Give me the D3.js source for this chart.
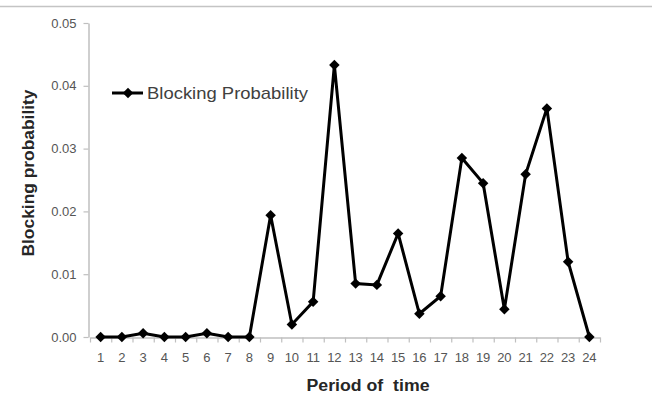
<!DOCTYPE html>
<html>
<head>
<meta charset="utf-8">
<script src="https://cdn.jsdelivr.net/npm/d3@7"></script>
<style>
  html, body { margin: 0; padding: 0; background: #fff; }
  svg { display: block; }
</style>
</head>
<body>
<svg id="chart" width="652" height="408"></svg>
<script>
const periods = [1,2,3,4,5,6,7,8,9,10,11,12,13,14,15,16,17,18,19,20,21,22,23,24];
const blocking = [0, 0, 0.0006, 0, 0, 0.0006, 0, 0, 0.0194, 0.0020, 0.0056, 0.0433,
                  0.0085, 0.0083, 0.0165, 0.0037, 0.0065, 0.0285, 0.0245, 0.0044,
                  0.0259, 0.0364, 0.0120, 0];
const yTicks = [0, 0.01, 0.02, 0.03, 0.04, 0.05];
const seriesName = "Blocking Probability";
const xTitle = "Period of  time";
const yTitle = "Blocking probability";

const svg = d3.select("#chart");
const axisColor = "#bfbfbf";
const labelColor = "#555555";
const font = "'Liberation Sans', Arial, sans-serif";

// top rule
svg.append("line").attr("x1", 0).attr("x2", 652).attr("y1", 6.5).attr("y2", 6.5)
  .attr("stroke", "#c4c4c4").attr("stroke-width", 1.5);

const x = d3.scaleBand().domain(periods).range([90, 600]).padding(0);
const xEdge = d3.scaleLinear().domain([0, 24]).range([90, 600]);
const y = d3.scaleLinear().domain([0, 0.05]).range([337, 23]);

// Y axis
const gy = svg.append("g").attr("transform", "translate(88.5,0)")
  .call(d3.axisLeft(y).tickValues(yTicks).tickFormat(d3.format(".2f")).tickSize(5).tickSizeOuter(0).tickPadding(7));
gy.select(".domain").attr("stroke", axisColor).attr("stroke-width", 1.5);
gy.selectAll(".tick line").attr("stroke", axisColor).attr("stroke-width", 1.2);
gy.selectAll(".tick text").attr("fill", labelColor).attr("font-family", font).attr("font-size", 13);

// X axis edge ticks
const gxt = svg.append("g").attr("transform", "translate(0,337.5)")
  .call(d3.axisBottom(xEdge).tickValues(d3.range(0, 25)).tickFormat("").tickSize(5).tickSizeOuter(0));
gxt.select(".domain").attr("stroke", axisColor).attr("stroke-width", 1.5);
gxt.selectAll(".tick line").attr("stroke", axisColor).attr("stroke-width", 1.2);

// X axis labels
const gx = svg.append("g").attr("transform", "translate(0,337.5)")
  .call(d3.axisBottom(x).tickSize(0).tickPadding(15));
gx.select(".domain").remove();
gx.selectAll(".tick text").attr("fill", labelColor).attr("font-family", font).attr("font-size", 13);

// line
const line = d3.line().x((d, i) => x(periods[i]) + x.bandwidth() / 2).y(d => y(d));
svg.append("path").datum(blocking).attr("d", line)
  .attr("fill", "none").attr("stroke", "#000").attr("stroke-width", 3).attr("stroke-linejoin", "miter");

const diamond = d3.symbol().type(d3.symbolSquare).size(55);
svg.append("g").selectAll("path").data(blocking).join("path")
  .attr("d", diamond)
  .attr("transform", (d, i) => `translate(${x(periods[i]) + x.bandwidth() / 2},${y(d)}) rotate(45)`)
  .attr("fill", "#000");

// legend
const lg = svg.append("g");
lg.append("line").attr("x1", 112).attr("x2", 143).attr("y1", 93).attr("y2", 93)
  .attr("stroke", "#000").attr("stroke-width", 3);
lg.append("path").attr("d", diamond).attr("transform", "translate(128,93) rotate(45)").attr("fill", "#000");
lg.append("text").attr("x", 147).attr("y", 99).text(seriesName)
  .attr("font-family", font).attr("font-size", 17).attr("fill", "#404040")
  .attr("textLength", 161).attr("lengthAdjust", "spacingAndGlyphs");

// axis titles
svg.append("text").attr("x", 368).attr("y", 391).attr("text-anchor", "middle")
  .style("white-space", "pre").text(xTitle)
  .attr("font-family", font).attr("font-weight", "bold").attr("font-size", 16).attr("fill", "#262626")
  .attr("textLength", 123).attr("lengthAdjust", "spacingAndGlyphs");

svg.append("text").attr("transform", "translate(34,173) rotate(-90)").attr("text-anchor", "middle")
  .text(yTitle)
  .attr("font-family", font).attr("font-weight", "bold").attr("font-size", 16).attr("fill", "#262626")
  .attr("textLength", 167).attr("lengthAdjust", "spacingAndGlyphs");
</script>
</body>
</html>
